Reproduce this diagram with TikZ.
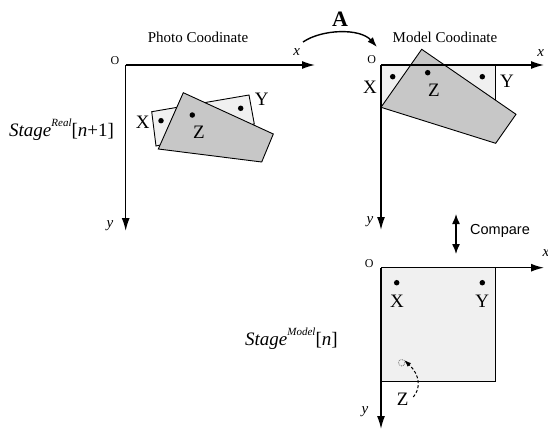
\documentclass[tikz,border=0pt]{standalone}
\usepackage{fontspec}
\setmainfont{Liberation Serif}
\newfontfamily\cmpfont{Liberation Sans}
\usetikzlibrary{arrows.meta}
\tikzset{
  axis/.style={line width=1.4pt,-{Latex[length=13pt,width=8pt]}},
  lightrect/.style={draw=black,line width=0.9pt,fill=black!6},
  darkrect/.style={draw=black,line width=0.9pt,fill=black!22},
  dotm/.style={circle,fill=black,inner sep=0pt,minimum size=5.5pt},
  ptlabel/.style={font=\fontsize{19}{21}\selectfont,inner sep=0pt},
  axlabel/.style={font=\fontsize{15}{17}\selectfont\itshape,inner sep=0pt},
  olabel/.style={font=\fontsize{12}{13}\selectfont,inner sep=0pt},
  title/.style={font=\fontsize{15}{17}\selectfont,inner sep=0pt},
  stagelabel/.style={font=\fontsize{19}{22}\selectfont,inner sep=0pt,anchor=base west},
}
\newcommand{\stg}[2]{\textit{Stage}\raisebox{0.52em}{\fontsize{11}{12}\selectfont\textit{#1}}[#2]}
\begin{document}
\begin{tikzpicture}[x=1pt,y=-1pt]
\useasboundingbox (0,0) rectangle (548,429);
% ---------- Photo coordinate ----------
\coordinate (po) at (125.7,65);
\coordinate (px) at (315,65);
\coordinate (py) at (125.7,231);
\draw[lightrect] (151.7,111.7) -- (249,95) -- (254.3,124) -- (156,146) -- cycle;
\draw[darkrect] (183.3,92.7) -- (273.3,134) -- (261.7,162) -- (158.3,149) -- cycle;
\node[dotm] (pXd) at (161,120.7) {};
\node[dotm] (pZd) at (192.3,115) {};
\node[dotm] (pYd) at (240.7,108.3) {};
\node[ptlabel] (pX) at (142.7,122.7) {X};
\node[ptlabel] (pZ) at (199,132.7) {Z};
\node[ptlabel] (pY) at (261.7,99.3) {Y};
\draw[axis] (po) -- (px);
\draw[axis] (po) -- (py);
\node[olabel] (pO) at (115,60.5) {O};
\node[axlabel] (pxl) at (296.7,51.7) {x};
\node[axlabel] (pyl) at (110,226) {y};
\node[title] (ptitle) at (198,37) {Photo Coodinate};
\node[stagelabel] (sreal) at (9,136) {\stg{Real}{\textit{n}+1}};
% ---------- Transform A ----------
\coordinate (as) at (303,42);
\coordinate (ae) at (377,47);
\draw[line width=1.4pt,-{Latex[length=10pt,width=7pt]}] (as) .. controls (322,29) and (360,28) .. (ae);
\node[font=\fontsize{22}{24}\selectfont\bfseries,inner sep=0pt] (A) at (340,19) {A};
% ---------- Model coordinate ----------
\coordinate (mo) at (381,65);
\coordinate (mx) at (544,65);
\coordinate (my) at (381,230);
\draw[lightrect] (381,65) rectangle (495.7,107);
\draw[darkrect] (421.7,49.3) -- (516,114.3) -- (495.7,143.3) -- (381,107.3) -- cycle;
\node[dotm] (mXd) at (392.7,76.7) {};
\node[dotm] (mZd) at (427.7,72.7) {};
\node[dotm] (mYd) at (482.3,76.7) {};
\node[ptlabel] (mX) at (370,87.3) {X};
\node[ptlabel] (mZ) at (434,90) {Z};
\node[ptlabel] (mY) at (507,81.7) {Y};
\draw[axis] (mo) -- (mx);
\draw[axis] (mo) -- (my);
\node[olabel] (mO) at (371.7,59.3) {O};
\node[axlabel] (mxl) at (540.7,52.7) {x};
\node[axlabel] (myl) at (370,221.5) {y};
\node[title] (mtitle) at (445,37.3) {Model Coodinate};
% ---------- Compare ----------
\coordinate (ct) at (456,214);
\coordinate (cb) at (456,254);
\draw[line width=1.4pt,{Latex[length=10pt,width=8pt]}-{Latex[length=10pt,width=8pt]}] (ct) -- (cb);
\node[font=\cmpfont\fontsize{14.5}{16}\selectfont,inner sep=0pt] (cmp) at (500,230.7) {Compare};
% ---------- Stage model ----------
\coordinate (so) at (381,267.7);
\coordinate (sx) at (544,267.7);
\coordinate (sy) at (381,429);
\draw[lightrect] (so) rectangle (495.7,381.7);
\draw[axis] (so) -- (sx);
\draw[axis] (so) -- (sy);
\node[dotm] (sXd) at (396.7,282.7) {};
\node[dotm] (sYd) at (482.3,282.7) {};
\node[ptlabel] (sX) at (397,301) {X};
\node[ptlabel] (sY) at (482.3,301) {Y};
\node[circle,draw=black!60,densely dotted,line width=0.8pt,inner sep=0pt,minimum size=6.5pt] (sZd) at (401.7,362.7) {};
\node[ptlabel] (sZ) at (402.7,399.5) {Z};
\draw[line width=1pt,densely dashed,-{Latex[length=7pt,width=5pt]}] (413.3,397) .. controls (421,388) and (420,375) .. (sZd.north east);
\node[olabel] (sO) at (369.3,263.3) {O};
\node[axlabel] (sxl) at (546,253) {x};
\node[axlabel] (syl) at (365,411.7) {y};
\node[stagelabel] (smodel) at (245,345) {\stg{Model}{\textit{n}}};
\end{tikzpicture}
\end{document}
